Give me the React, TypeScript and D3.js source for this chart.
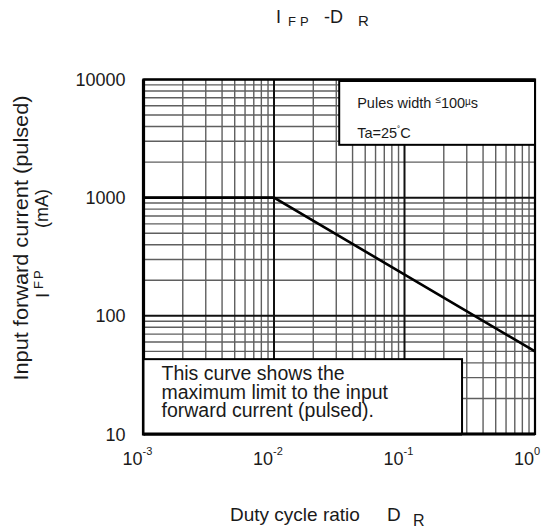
import * as d3 from "d3";

const W = 541;
const H = 531;
const margin = { top: 79.5, right: 6, bottom: 97, left: 143.5 };

// curve: max pulsed forward current vs duty ratio
const dutyRatio = [0.001, 0.01, 1];
const pulsedCurrent = [1000, 1000, 50];

const xDomain: [number, number] = [0.001, 1];
const yDomain: [number, number] = [10, 10000];
const xTickExps = ["-3", "-2", "-1", "0"];
const yTickLabels = ["10", "100", "1000", "10000"];

const noteLines = [
  "This curve shows the",
  "maximum limit to the input",
  "forward current (pulsed).",
];

export default function App() {
  const iw = W - margin.left - margin.right;
  const ih = H - margin.top - margin.bottom;
  const x = d3.scaleLog().domain(xDomain).range([margin.left, margin.left + iw]);
  const y = d3.scaleLog().domain(yDomain).range([margin.top + ih, margin.top]);

  const isDecade = (t: number) => Math.abs(Math.log10(t) - Math.round(Math.log10(t))) < 1e-9;
  const xMajor = x.ticks().filter(isDecade);
  const xMinor = x.ticks().filter((t) => !isDecade(t));
  const yMajor = y.ticks().filter(isDecade);
  const yMinor = y.ticks().filter((t) => !isDecade(t));

  const line = d3
    .line<number>()
    .x((_, i) => x(dutyRatio[i]))
    .y((d) => y(d));

  const x0 = x.range()[0];
  const x1 = x.range()[1];
  const y0 = y.range()[0];
  const y1 = y.range()[1];

  // annotation boxes in data space
  const topBox = { x0: x(0.0316), x1: x1, y0: y1 + 1.5, y1: y(2800) };
  const botBox = { x0: x0, x1: x(0.276), y0: y(43), y1: y0 };

  return (
    <div style={{ position: "fixed", left: 0, top: 0 }}>
      <svg width={W} height={H} style={{ display: "block", background: "#fff" }} fontFamily="Arial, 'Liberation Sans', sans-serif">
        <rect width={W} height={H} fill="#fff" />
        {/* title */}
        <g fill="#1a1a1a">
          <text x={276} y={23} fontSize={18}>I</text>
          <text x={288} y={25.5} fontSize={13} letterSpacing={4}>FP</text>
          <text x={324} y={23} fontSize={18}>-D</text>
          <text x={358} y={25.5} fontSize={15}>R</text>
        </g>

        {/* grid */}
        <g>
          {xMinor.map((t) => (
            <line key={"xm" + t} x1={x(t)} x2={x(t)} y1={y1} y2={y0} stroke="#5f5f5f" strokeWidth={1.4} />
          ))}
          {yMinor.map((t) => (
            <line key={"ym" + t} x1={x0} x2={x1} y1={y(t)} y2={y(t)} stroke="#5f5f5f" strokeWidth={1.4} />
          ))}
          {xMajor.map((t) => (
            <line key={"xM" + t} x1={x(t)} x2={x(t)} y1={y1} y2={y0} stroke="#111" strokeWidth={2} />
          ))}
          {yMajor.map((t) => (
            <line key={"yM" + t} x1={x0} x2={x1} y1={y(t)} y2={y(t)} stroke="#111" strokeWidth={2} />
          ))}
        </g>

        {/* curve */}
        <path d={line(pulsedCurrent) ?? ""} fill="none" stroke="#000" strokeWidth={2.6} />

        {/* frame */}
        <rect x={x0} y={y1} width={x1 - x0} height={y0 - y1} fill="none" stroke="#000" strokeWidth={2.2} />
        <line x1={x0} x2={x0} y1={y1} y2={y0 + 1.5} stroke="#000" strokeWidth={3.2} />
        <line x1={x0} x2={x1} y1={y0} y2={y0} stroke="#000" strokeWidth={3.2} />

        {/* condition box */}
        <rect x={topBox.x0} y={topBox.y0} width={topBox.x1 - topBox.x0} height={topBox.y1 - topBox.y0} fill="#fff" stroke="#000" strokeWidth={2} />
        <text x={topBox.x0 + 18} y={topBox.y0 + 27} fontSize={14.5} fill="#1a1a1a">
          Pules width <tspan fontSize={10} dy={-5}>≤</tspan>
          <tspan dy={5}>100</tspan>
          <tspan fontSize={10} dy={-3}>µ</tspan>
          <tspan dy={3}>s</tspan>
        </text>
        <text x={topBox.x0 + 18} y={topBox.y0 + 57} fontSize={14.5} fill="#1a1a1a">
          Ta=25<tspan fontSize={9} dy={-5}>˚</tspan>
          <tspan dy={5}>C</tspan>
        </text>

        {/* note box */}
        <rect x={botBox.x0} y={botBox.y0} width={botBox.x1 - botBox.x0} height={botBox.y1 - botBox.y0} fill="#fff" stroke="#000" strokeWidth={2} />
        <line x1={x0} x2={botBox.x1} y1={y0} y2={y0} stroke="#000" strokeWidth={3.2} />
        {noteLines.map((t, i) => (
          <text key={t} x={botBox.x0 + 18} y={botBox.y0 + 21 + i * 18.5} fontSize={19.5} fill="#1a1a1a">
            {t}
          </text>
        ))}

        {/* y tick labels */}
        {yMajor.map((t, i) => (
          <text key={"yl" + t} x={x0 - 18} y={y(t) + 6.5} fontSize={18} textAnchor="end" fill="#1a1a1a">
            {yTickLabels[i]}
          </text>
        ))}

        {/* x tick labels */}
        {xMajor.map((t, i) => (
          <g key={"xl" + t} fill="#1a1a1a">
            <text x={x(t) - 1} y={y0 + 31} fontSize={18} textAnchor="end">10</text>
            <text x={x(t) - 1} y={y0 + 21} fontSize={11}>{xTickExps[i]}</text>
          </g>
        ))}

        {/* y axis title */}
        <g transform="translate(28,238) rotate(-90)" fill="#1a1a1a">
          <text x={0} y={0} fontSize={20} textAnchor="middle" textLength={285} lengthAdjust="spacingAndGlyphs">
            Input forward current (pulsed)
          </text>
        </g>
        <g transform="translate(48,0) rotate(-90)" fill="#1a1a1a">
          <text x={-298} y={1} fontSize={19}>I</text>
          <text x={-289} y={-5} fontSize={13} letterSpacing={2}>FP</text>
          <text x={-228} y={0} fontSize={18}>(mA)</text>
        </g>

        {/* x axis title */}
        <g fill="#1a1a1a">
          <text x={230} y={521} fontSize={19}>Duty cycle ratio</text>
          <text x={387} y={521} fontSize={19}>D</text>
          <text x={413} y={525.5} fontSize={16}>R</text>
        </g>
      </svg>
    </div>
  );
}
